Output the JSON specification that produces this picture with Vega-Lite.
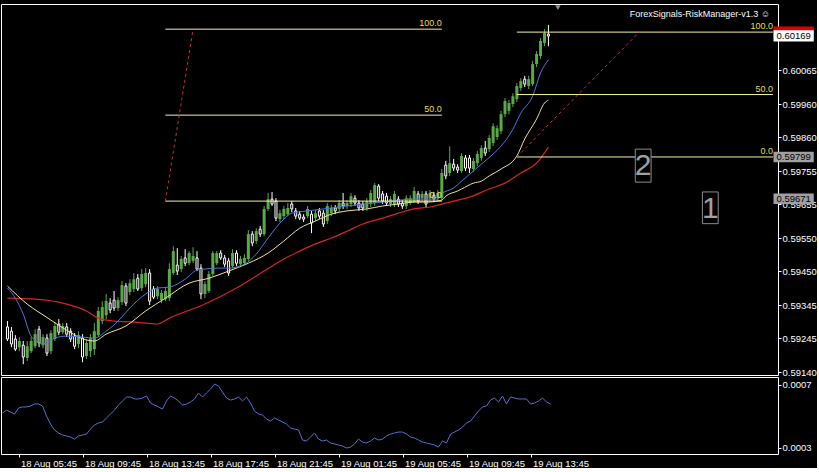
{
"$schema": "https://vega.github.io/schema/vega-lite/v6.json",
"background": "#000000",
"padding": {"left": 0, "top": 3, "right": 0, "bottom": 0},
"bounds": "flush",
"spacing": 2,
"config": {
  "view": {"stroke": "#ffffff", "fill": "#000000"},
  "axis": {"labelColor": "#ffffff", "labelFont": "Liberation Sans", "labelFontSize": 9.5, "tickColor": "#ffffff", "tickSize": 3, "domain": false, "grid": false, "labelPadding": 1},
  "text": {"font": "Liberation Sans"}
},
"datasets": {
"bars": [
{"t":"2016-08-18T04:45","o":0.59279,"h":0.59297,"l":0.59236,"c":0.59242,"a":0.000521,"f":0.59398,"m":0.59404,"s":0.59367},
{"t":"2016-08-18T05:00","o":0.59266,"h":0.59279,"l":0.59217,"c":0.59227,"a":0.00054},
{"t":"2016-08-18T05:15","o":0.59242,"h":0.59254,"l":0.59205,"c":0.59211,"a":0.000528,"f":0.59367},
{"t":"2016-08-18T05:30","o":0.59217,"h":0.59248,"l":0.59205,"c":0.59236,"a":0.000515},
{"t":"2016-08-18T05:45","o":0.59223,"h":0.59236,"l":0.59165,"c":0.59187,"a":0.000553,"f":0.59318},
{"t":"2016-08-18T06:00","o":0.59184,"h":0.59236,"l":0.59175,"c":0.5922,"a":0.00056,"m":0.59349},
{"t":"2016-08-18T06:15","o":0.59205,"h":0.59248,"l":0.59199,"c":0.59236,"a":0.00056,"f":0.59251},
{"t":"2016-08-18T06:30","o":0.5922,"h":0.59272,"l":0.59214,"c":0.59257,"a":0.000566,"s":0.59364},
{"t":"2016-08-18T06:45","o":0.59272,"h":0.59282,"l":0.59217,"c":0.5923,"a":0.000579},
{"t":"2016-08-18T07:00","o":0.59223,"h":0.59257,"l":0.59214,"c":0.59248,"a":0.000579,"f":0.59227},
{"t":"2016-08-18T07:15","o":0.59245,"h":0.59257,"l":0.5919,"c":0.59199,"a":0.000566,"m":0.59308},
{"t":"2016-08-18T07:30","o":0.59205,"h":0.59269,"l":0.59196,"c":0.5926,"a":0.000502},
{"t":"2016-08-18T07:45","o":0.59242,"h":0.59294,"l":0.59236,"c":0.59282,"a":0.000451,"f":0.59245},
{"t":"2016-08-18T08:00","o":0.59288,"h":0.59303,"l":0.59254,"c":0.59263,"a":0.000413},
{"t":"2016-08-18T08:15","o":0.59263,"h":0.59291,"l":0.59257,"c":0.59282,"a":0.000394},
{"t":"2016-08-18T08:30","o":0.59279,"h":0.59291,"l":0.59248,"c":0.59257,"a":0.000381,"f":0.59251,"m":0.59269,"s":0.59349},
{"t":"2016-08-18T08:45","o":0.59266,"h":0.59275,"l":0.59233,"c":0.59242,"a":0.000375},
{"t":"2016-08-18T09:00","o":0.59251,"h":0.5926,"l":0.59211,"c":0.5922,"a":0.000368},
{"t":"2016-08-18T09:15","o":0.59227,"h":0.59266,"l":0.59214,"c":0.59254,"a":0.000355},
{"t":"2016-08-18T09:30","o":0.59245,"h":0.59257,"l":0.59171,"c":0.59187,"a":0.000375,"f":0.59248},
{"t":"2016-08-18T09:45","o":0.5919,"h":0.59242,"l":0.59181,"c":0.5923,"a":0.000381,"m":0.59239,"s":0.59328},
{"t":"2016-08-18T10:00","o":0.59205,"h":0.59257,"l":0.59187,"c":0.59245,"a":0.000387},
{"t":"2016-08-18T10:15","o":0.59211,"h":0.59291,"l":0.59193,"c":0.59266,"a":0.000419,"f":0.59245,"m":0.59236},
{"t":"2016-08-18T10:30","o":0.59254,"h":0.5934,"l":0.59248,"c":0.59328,"a":0.000445,"s":0.59306},
{"t":"2016-08-18T10:45","o":0.59297,"h":0.59358,"l":0.59288,"c":0.5934,"a":0.000458},
{"t":"2016-08-18T11:00","o":0.59315,"h":0.5938,"l":0.59303,"c":0.59358,"a":0.000464,"f":0.59266,"m":0.59257},
{"t":"2016-08-18T11:15","o":0.59352,"h":0.59367,"l":0.59321,"c":0.59331,"a":0.00049},
{"t":"2016-08-18T11:30","o":0.59361,"h":0.59389,"l":0.59328,"c":0.59337,"a":0.000515,"s":0.59297},
{"t":"2016-08-18T11:45","o":0.59337,"h":0.5937,"l":0.59328,"c":0.59361,"a":0.00054,"f":0.59297},
{"t":"2016-08-18T12:00","o":0.59355,"h":0.59419,"l":0.59346,"c":0.59407,"a":0.000572},
{"t":"2016-08-18T12:15","o":0.59404,"h":0.59413,"l":0.59343,"c":0.59352,"a":0.000598,"m":0.59282},
{"t":"2016-08-18T12:30","o":0.59386,"h":0.59425,"l":0.59376,"c":0.59413,"a":0.000623,"f":0.59337},
{"t":"2016-08-18T12:45","o":0.59395,"h":0.59444,"l":0.59386,"c":0.59425,"a":0.000623,"s":0.59294},
{"t":"2016-08-18T13:00","o":0.59428,"h":0.59441,"l":0.59389,"c":0.59395,"a":0.000611},
{"t":"2016-08-18T13:15","o":0.59398,"h":0.59456,"l":0.59389,"c":0.59441,"a":0.000611},
{"t":"2016-08-18T13:30","o":0.5941,"h":0.59459,"l":0.59401,"c":0.59444,"a":0.000617,"f":0.5938,"m":0.59328},
{"t":"2016-08-18T13:45","o":0.59444,"h":0.59456,"l":0.59346,"c":0.59358,"a":0.00063},
{"t":"2016-08-18T14:00","o":0.59395,"h":0.59404,"l":0.59364,"c":0.5937,"a":0.000585},
{"t":"2016-08-18T14:15","o":0.59373,"h":0.59404,"l":0.59364,"c":0.59395,"a":0.000572,"f":0.59398,"s":0.59288},
{"t":"2016-08-18T14:30","o":0.59361,"h":0.59392,"l":0.59352,"c":0.59383,"a":0.00056},
{"t":"2016-08-18T14:45","o":0.59364,"h":0.59401,"l":0.59358,"c":0.59389,"a":0.000547,"m":0.59367},
{"t":"2016-08-18T15:00","o":0.59367,"h":0.59474,"l":0.59358,"c":0.59456,"a":0.000598,"f":0.59401,"s":0.59306},
{"t":"2016-08-18T15:15","o":0.59444,"h":0.59526,"l":0.59438,"c":0.59511,"a":0.00063},
{"t":"2016-08-18T15:30","o":0.59468,"h":0.5952,"l":0.59438,"c":0.5945,"a":0.000617},
{"t":"2016-08-18T15:45","o":0.59456,"h":0.59496,"l":0.59447,"c":0.59487,"a":0.000598},
{"t":"2016-08-18T16:00","o":0.5949,"h":0.59517,"l":0.59465,"c":0.59474,"a":0.000572,"f":0.59425},
{"t":"2016-08-18T16:15","o":0.59474,"h":0.59511,"l":0.59468,"c":0.59505,"a":0.000579,"m":0.59413},
{"t":"2016-08-18T16:30","o":0.59481,"h":0.59523,"l":0.59474,"c":0.59496,"a":0.000592},
{"t":"2016-08-18T16:45","o":0.5949,"h":0.59511,"l":0.5945,"c":0.59456,"a":0.000611,"f":0.59453},
{"t":"2016-08-18T17:00","o":0.59459,"h":0.59471,"l":0.59364,"c":0.5938,"a":0.000649},
{"t":"2016-08-18T17:15","o":0.5938,"h":0.59419,"l":0.59367,"c":0.5941,"a":0.000623,"f":0.59456,"s":0.59349},
{"t":"2016-08-18T17:30","o":0.59389,"h":0.5945,"l":0.59383,"c":0.59441,"a":0.000649,"m":0.59428},
{"t":"2016-08-18T17:45","o":0.59441,"h":0.59511,"l":0.59435,"c":0.59505,"a":0.000674},
{"t":"2016-08-18T18:00","o":0.59474,"h":0.59511,"l":0.59468,"c":0.59505,"a":0.000706,"f":0.59459},
{"t":"2016-08-18T18:15","o":0.59505,"h":0.59514,"l":0.59484,"c":0.5949,"a":0.000694},
{"t":"2016-08-18T18:30","o":0.5949,"h":0.59499,"l":0.59462,"c":0.59471,"a":0.000655},
{"t":"2016-08-18T18:45","o":0.59481,"h":0.5949,"l":0.59435,"c":0.59444,"a":0.000617,"f":0.59459,"m":0.5945},
{"t":"2016-08-18T19:00","o":0.59465,"h":0.59517,"l":0.59459,"c":0.59505,"a":0.000604},
{"t":"2016-08-18T19:15","o":0.59505,"h":0.59514,"l":0.59465,"c":0.59474,"a":0.000611,"s":0.59398},
{"t":"2016-08-18T19:30","o":0.59471,"h":0.59496,"l":0.59462,"c":0.59487,"a":0.000623},
{"t":"2016-08-18T19:45","o":0.59474,"h":0.59502,"l":0.59468,"c":0.5949,"a":0.000598,"f":0.59471},
{"t":"2016-08-18T20:00","o":0.59487,"h":0.59575,"l":0.59481,"c":0.59563,"a":0.000623,"m":0.59474},
{"t":"2016-08-18T20:15","o":0.59563,"h":0.59572,"l":0.59526,"c":0.59536,"a":0.000585},
{"t":"2016-08-18T20:30","o":0.59542,"h":0.59581,"l":0.59533,"c":0.59572,"a":0.000534,"f":0.59502},
{"t":"2016-08-18T20:45","o":0.59578,"h":0.59588,"l":0.59554,"c":0.59563,"a":0.000515},
{"t":"2016-08-18T21:00","o":0.59563,"h":0.59649,"l":0.59557,"c":0.5964,"a":0.000509,"s":0.5945},
{"t":"2016-08-18T21:15","o":0.5964,"h":0.59689,"l":0.59634,"c":0.5967,"a":0.000483,"f":0.59551,"m":0.59505},
{"t":"2016-08-18T21:30","o":0.5967,"h":0.59692,"l":0.59649,"c":0.59655,"a":0.00047},
{"t":"2016-08-18T21:45","o":0.59664,"h":0.59673,"l":0.59603,"c":0.59612,"a":0.00049},
{"t":"2016-08-18T22:00","o":0.59609,"h":0.59637,"l":0.596,"c":0.59627,"a":0.000477},
{"t":"2016-08-18T22:15","o":0.59618,"h":0.59649,"l":0.59609,"c":0.5964,"a":0.000464,"f":0.59609,"m":0.59542,"s":0.59487},
{"t":"2016-08-18T22:30","o":0.59624,"h":0.59658,"l":0.59618,"c":0.59643,"a":0.000451},
{"t":"2016-08-18T22:45","o":0.59655,"h":0.59664,"l":0.5963,"c":0.5964,"a":0.000426,"f":0.59627},
{"t":"2016-08-18T23:00","o":0.59634,"h":0.59643,"l":0.59609,"c":0.59618,"a":0.000419},
{"t":"2016-08-18T23:15","o":0.59624,"h":0.59634,"l":0.59606,"c":0.59612,"a":0.000413,"m":0.59581,"s":0.59511},
{"t":"2016-08-18T23:30","o":0.59615,"h":0.59624,"l":0.596,"c":0.59609,"a":0.000349},
{"t":"2016-08-18T23:45","o":0.59618,"h":0.59649,"l":0.59612,"c":0.5964,"a":0.000343,"f":0.59634},
{"t":"2016-08-19T00:00","o":0.59624,"h":0.59634,"l":0.59566,"c":0.59597,"a":0.000368},
{"t":"2016-08-19T00:15","o":0.59612,"h":0.59637,"l":0.59603,"c":0.59627,"a":0.000394,"m":0.59603,"s":0.59533},
{"t":"2016-08-19T00:30","o":0.59634,"h":0.59643,"l":0.59609,"c":0.59618,"a":0.000355},
{"t":"2016-08-19T00:45","o":0.59627,"h":0.59637,"l":0.59585,"c":0.59594,"a":0.000343,"f":0.5964},
{"t":"2016-08-19T01:00","o":0.59603,"h":0.59658,"l":0.59594,"c":0.59649,"a":0.000349},
{"t":"2016-08-19T01:15","o":0.59627,"h":0.59652,"l":0.59618,"c":0.59643,"a":0.00033,"m":0.59624,"s":0.59551},
{"t":"2016-08-19T01:30","o":0.59643,"h":0.59652,"l":0.59624,"c":0.59634,"a":0.000324},
{"t":"2016-08-19T01:45","o":0.5964,"h":0.59667,"l":0.5963,"c":0.59658,"a":0.000317},
{"t":"2016-08-19T02:00","o":0.59658,"h":0.59689,"l":0.5964,"c":0.59649,"a":0.000311},
{"t":"2016-08-19T02:15","o":0.59649,"h":0.59667,"l":0.5964,"c":0.59658,"a":0.000298,"f":0.59649,"m":0.59634,"s":0.59572},
{"t":"2016-08-19T02:30","o":0.59655,"h":0.59689,"l":0.59646,"c":0.59679,"a":0.000304},
{"t":"2016-08-19T02:45","o":0.59673,"h":0.59682,"l":0.59649,"c":0.59658,"a":0.000324},
{"t":"2016-08-19T03:00","o":0.59658,"h":0.59667,"l":0.59634,"c":0.59643,"a":0.000355},
{"t":"2016-08-19T03:15","o":0.59655,"h":0.59664,"l":0.59634,"c":0.59643,"a":0.000336,"f":0.59655,"s":0.59594},
{"t":"2016-08-19T03:30","o":0.59643,"h":0.59673,"l":0.59634,"c":0.59664,"a":0.00033,"m":0.5964},
{"t":"2016-08-19T03:45","o":0.59655,"h":0.59698,"l":0.59646,"c":0.59689,"a":0.000343},
{"t":"2016-08-19T04:00","o":0.59658,"h":0.59719,"l":0.59649,"c":0.59713,"a":0.000362},
{"t":"2016-08-19T04:15","o":0.5971,"h":0.59716,"l":0.59664,"c":0.59673,"a":0.000349},
{"t":"2016-08-19T04:30","o":0.59686,"h":0.59695,"l":0.59655,"c":0.59664,"a":0.000355,"f":0.59661,"m":0.59649,"s":0.59612},
{"t":"2016-08-19T04:45","o":0.59679,"h":0.59689,"l":0.59649,"c":0.59658,"a":0.000375},
{"t":"2016-08-19T05:00","o":0.59655,"h":0.59679,"l":0.59646,"c":0.5967,"a":0.000387},
{"t":"2016-08-19T05:15","o":0.59655,"h":0.59695,"l":0.59646,"c":0.59686,"a":0.000394},
{"t":"2016-08-19T05:30","o":0.5967,"h":0.59679,"l":0.59646,"c":0.59655,"a":0.0004,"m":0.59655,"s":0.59627},
{"t":"2016-08-19T05:45","o":0.59658,"h":0.59667,"l":0.5964,"c":0.59649,"a":0.0004},
{"t":"2016-08-19T06:00","o":0.59649,"h":0.59682,"l":0.5964,"c":0.59673,"a":0.000387},
{"t":"2016-08-19T06:15","o":0.59658,"h":0.59682,"l":0.59652,"c":0.59673,"a":0.000368},
{"t":"2016-08-19T06:30","o":0.59664,"h":0.59707,"l":0.59658,"c":0.59695,"a":0.000362,"f":0.5967,"m":0.59661,"s":0.5964},
{"t":"2016-08-19T06:45","o":0.59686,"h":0.59695,"l":0.59655,"c":0.59664,"a":0.000349},
{"t":"2016-08-19T07:00","o":0.59673,"h":0.59695,"l":0.59664,"c":0.59686,"a":0.000336},
{"t":"2016-08-19T07:15","o":0.59686,"h":0.59695,"l":0.59643,"c":0.59655,"a":0.00033,"m":0.59661},
{"t":"2016-08-19T07:30","o":0.59673,"h":0.59698,"l":0.59664,"c":0.59689,"a":0.000324,"s":0.59646},
{"t":"2016-08-19T07:45","o":0.59682,"h":0.59692,"l":0.59661,"c":0.5967,"a":0.000317},
{"t":"2016-08-19T08:00","o":0.59673,"h":0.59698,"l":0.59664,"c":0.59689,"a":0.000304,"f":0.5967},
{"t":"2016-08-19T08:15","o":0.59673,"h":0.59762,"l":0.59667,"c":0.5975,"a":0.000343,"f":0.59686,"m":0.59667,"s":0.59655},
{"t":"2016-08-19T08:30","o":0.59774,"h":0.59787,"l":0.59731,"c":0.59741,"a":0.00033,"m":0.59679},
{"t":"2016-08-19T08:45","o":0.5975,"h":0.59832,"l":0.59741,"c":0.5978,"a":0.000387},
{"t":"2016-08-19T09:00","o":0.59777,"h":0.59793,"l":0.59756,"c":0.59765,"a":0.0004,"f":0.59704,"s":0.59664},
{"t":"2016-08-19T09:15","o":0.59768,"h":0.59777,"l":0.5975,"c":0.59759,"a":0.000413,"m":0.59695},
{"t":"2016-08-19T09:30","o":0.59756,"h":0.59811,"l":0.5975,"c":0.59802,"a":0.000432,"f":0.59725,"m":0.59701},
{"t":"2016-08-19T09:45","o":0.59796,"h":0.59805,"l":0.59756,"c":0.59765,"a":0.000458},
{"t":"2016-08-19T10:00","o":0.59796,"h":0.59805,"l":0.5975,"c":0.59765,"a":0.00047,"s":0.59676},
{"t":"2016-08-19T10:15","o":0.59762,"h":0.59796,"l":0.59753,"c":0.59787,"a":0.000502,"m":0.59719},
{"t":"2016-08-19T10:30","o":0.5978,"h":0.59817,"l":0.59771,"c":0.59808,"a":0.000534},
{"t":"2016-08-19T10:45","o":0.59796,"h":0.59835,"l":0.59787,"c":0.59826,"a":0.00056,"f":0.59777,"m":0.59725},
{"t":"2016-08-19T11:00","o":0.59826,"h":0.59848,"l":0.59802,"c":0.59811,"a":0.000566},
{"t":"2016-08-19T11:15","o":0.59823,"h":0.59866,"l":0.59814,"c":0.59857,"a":0.000604,"m":0.59741,"s":0.59701},
{"t":"2016-08-19T11:30","o":0.59842,"h":0.59902,"l":0.59832,"c":0.59893,"a":0.000617,"f":0.59808},
{"t":"2016-08-19T11:45","o":0.5986,"h":0.59896,"l":0.59851,"c":0.59887,"a":0.000592},
{"t":"2016-08-19T12:00","o":0.59878,"h":0.5994,"l":0.59869,"c":0.5993,"a":0.00063,"f":0.59832,"m":0.59762},
{"t":"2016-08-19T12:15","o":0.5993,"h":0.59979,"l":0.59921,"c":0.5997,"a":0.000579,"s":0.59719},
{"t":"2016-08-19T12:30","o":0.5994,"h":0.59973,"l":0.5993,"c":0.59964,"a":0.000623},
{"t":"2016-08-19T12:45","o":0.59961,"h":0.59994,"l":0.59952,"c":0.59985,"a":0.000617,"f":0.59884},
{"t":"2016-08-19T13:00","o":0.59976,"h":0.60025,"l":0.59967,"c":0.60016,"a":0.000611,"m":0.59802},
{"t":"2016-08-19T13:15","o":0.6001,"h":0.6004,"l":0.60001,"c":0.60031,"a":0.000611,"f":0.59933,"s":0.5975},
{"t":"2016-08-19T13:30","o":0.60037,"h":0.60047,"l":0.60013,"c":0.60022,"a":0.000611,"m":0.59854},
{"t":"2016-08-19T13:45","o":0.60016,"h":0.60047,"l":0.60007,"c":0.60037,"a":0.000579},
{"t":"2016-08-19T14:00","o":0.60022,"h":0.60093,"l":0.60016,"c":0.60083,"a":0.000585,"f":0.59985},
{"t":"2016-08-19T14:15","o":0.60083,"h":0.60123,"l":0.60074,"c":0.60114,"a":0.000598,"m":0.59915,"s":0.5978},
{"t":"2016-08-19T14:30","o":0.60108,"h":0.60163,"l":0.60099,"c":0.60154,"a":0.000617,"f":0.60056},
{"t":"2016-08-19T14:45","o":0.60148,"h":0.6019,"l":0.60138,"c":0.60178,"a":0.000592,"m":0.59964},
{"t":"2016-08-19T15:00","o":0.60175,"h":0.60203,"l":0.60138,"c":0.60169,"a":0.000579,"f":0.60096,"m":0.59973,"s":0.59829}
],
"fibs": [
{"t":"2016-08-18T14:45","t2":"2016-08-19T08:15","p":0.6019,"s":"100.0"},
{"t":"2016-08-18T14:45","t2":"2016-08-19T08:15","p":0.59927,"s":"50.0"},
{"t":"2016-08-18T14:45","t2":"2016-08-19T08:15","p":0.59664,"s":"0.0"},
{"t":"2016-08-19T13:00","t2":"2016-08-20T05:13","p":0.60181,"s":"100.0"},
{"t":"2016-08-19T13:00","t2":"2016-08-20T05:13","p":0.5999,"s":"50.0"},
{"t":"2016-08-19T13:00","t2":"2016-08-20T05:13","p":0.59799,"s":"0.0"}
],
"diag": [
{"g":"a","t":"2016-08-18T14:45","p":0.59664},
{"g":"a","t":"2016-08-18T16:30","p":0.6019},
{"g":"b","t":"2016-08-19T13:00","p":0.59799},
{"g":"b","t":"2016-08-19T20:45","p":0.60181}
],
"boxes": [
{"t":"2016-08-19T20:30","t2":"2016-08-19T21:30","lo":0.59722,"hi":0.59823,"tc":"2016-08-19T21:00","pc":0.59774,"s":"2"},
{"t":"2016-08-20T00:45","t2":"2016-08-20T01:45","lo":0.59595,"hi":0.59692,"tc":"2016-08-20T01:15","pc":0.59643,"s":"1"}
],
"tags": [
{"t":"2016-08-20T05:15","t2":"2016-08-20T07:48","lo":0.60164,"hi":0.60198,"p":0.60181,"s":"","k":"tp"},
{"t":"2016-08-20T05:15","t2":"2016-08-20T07:48","lo":0.60152,"hi":0.60187,"p":0.60169,"s":"0.60169","k":"bid"},
{"t":"2016-08-20T05:15","t2":"2016-08-20T07:48","lo":0.59783,"hi":0.59815,"p":0.59799,"s":"0.59799","k":"lvl"},
{"t":"2016-08-20T05:15","t2":"2016-08-20T07:48","lo":0.59655,"hi":0.59687,"p":0.59671,"s":"0.59671","k":"lvl"}
],
"notes": [
{"t":"2016-08-20T05:13","p":0.60236,"s":"ForexSignals-RiskManager-v1.3 ☺"}
],
"marker": [
{"t":"2016-08-19T15:36","p":0.60256}
]
},
"vconcat": [
{
"width": 777, "height": 371,
"layer": [
{"data": {"name": "bars"}, "transform": [{"filter": "datum.c >= datum.o"}],
 "mark": {"type": "rule", "color": "#5aa84a", "strokeWidth": 1},
 "encoding": {
  "x": {"field": "t", "type": "temporal", "axis": null, "scale": {"domain": [{"year":2016,"month":8,"date":18,"hours":4,"minutes":39,"seconds":22,"milliseconds":500},{"year":2016,"month":8,"date":20,"hours":5,"minutes":13,"seconds":7,"milliseconds":500}], "nice": false}},
  "y": {"field": "l", "type": "quantitative", "scale": {"domain": [0.59132, 0.60267], "zero": false, "nice": false},
        "axis": {"orient": "right", "title": null, "values": [0.5914,0.59245,0.59345,0.5945,0.5955,0.59655,0.59755,0.5986,0.5996,0.60065], "format": ".5f", "labelOverlap": false, "labelFlush": false}},
  "y2": {"field": "h"}}},
{"data": {"name": "bars"}, "transform": [{"filter": "datum.c < datum.o"}],
 "mark": {"type": "rule", "color": "#ffffff", "strokeWidth": 1},
 "encoding": {
  "x": {"field": "t", "type": "temporal", "axis": null, "scale": {"domain": [{"year":2016,"month":8,"date":18,"hours":4,"minutes":39,"seconds":22,"milliseconds":500},{"year":2016,"month":8,"date":20,"hours":5,"minutes":13,"seconds":7,"milliseconds":500}], "nice": false}},
  "y": {"field": "l", "type": "quantitative", "title": null, "scale": {"domain": [0.59132, 0.60267], "zero": false, "nice": false}},
  "y2": {"field": "h"}}},
{"data": {"name": "bars"}, "transform": [{"filter": "datum.c >= datum.o"}],
 "mark": {"type": "bar", "width": 3, "color": "#5aa84a"},
 "encoding": {
  "x": {"field": "t", "type": "temporal", "axis": null, "scale": {"domain": [{"year":2016,"month":8,"date":18,"hours":4,"minutes":39,"seconds":22,"milliseconds":500},{"year":2016,"month":8,"date":20,"hours":5,"minutes":13,"seconds":7,"milliseconds":500}], "nice": false}},
  "y": {"field": "o", "type": "quantitative", "title": null, "scale": {"domain": [0.59132, 0.60267], "zero": false, "nice": false}},
  "y2": {"field": "c"}}},
{"data": {"name": "bars"}, "transform": [{"filter": "datum.c < datum.o"}],
 "mark": {"type": "bar", "width": 2, "fill": "#000000", "stroke": "#ffffff", "strokeWidth": 1},
 "encoding": {
  "x": {"field": "t", "type": "temporal", "axis": null, "scale": {"domain": [{"year":2016,"month":8,"date":18,"hours":4,"minutes":39,"seconds":22,"milliseconds":500},{"year":2016,"month":8,"date":20,"hours":5,"minutes":13,"seconds":7,"milliseconds":500}], "nice": false}},
  "y": {"field": "o", "type": "quantitative", "title": null, "scale": {"domain": [0.59132, 0.60267], "zero": false, "nice": false}},
  "y2": {"field": "c"}}},
{"data": {"name": "bars"}, "transform": [{"filter": "isValid(datum.s)"}],
 "mark": {"type": "line", "color": "#d42424", "strokeWidth": 1.2, "interpolate": "monotone"},
 "encoding": {
  "x": {"field": "t", "type": "temporal", "axis": null, "scale": {"domain": [{"year":2016,"month":8,"date":18,"hours":4,"minutes":39,"seconds":22,"milliseconds":500},{"year":2016,"month":8,"date":20,"hours":5,"minutes":13,"seconds":7,"milliseconds":500}], "nice": false}},
  "y": {"field": "s", "type": "quantitative", "title": null, "scale": {"domain": [0.59132, 0.60267], "zero": false, "nice": false}}}},
{"data": {"name": "bars"}, "transform": [{"filter": "isValid(datum.m)"}],
 "mark": {"type": "line", "color": "#f2e49a", "strokeWidth": 1, "interpolate": "monotone"},
 "encoding": {
  "x": {"field": "t", "type": "temporal", "axis": null, "scale": {"domain": [{"year":2016,"month":8,"date":18,"hours":4,"minutes":39,"seconds":22,"milliseconds":500},{"year":2016,"month":8,"date":20,"hours":5,"minutes":13,"seconds":7,"milliseconds":500}], "nice": false}},
  "y": {"field": "m", "type": "quantitative", "title": null, "scale": {"domain": [0.59132, 0.60267], "zero": false, "nice": false}}}},
{"data": {"name": "bars"}, "transform": [{"filter": "isValid(datum.f)"}],
 "mark": {"type": "line", "color": "#4a78e0", "strokeWidth": 1, "interpolate": "monotone"},
 "encoding": {
  "x": {"field": "t", "type": "temporal", "axis": null, "scale": {"domain": [{"year":2016,"month":8,"date":18,"hours":4,"minutes":39,"seconds":22,"milliseconds":500},{"year":2016,"month":8,"date":20,"hours":5,"minutes":13,"seconds":7,"milliseconds":500}], "nice": false}},
  "y": {"field": "f", "type": "quantitative", "title": null, "scale": {"domain": [0.59132, 0.60267], "zero": false, "nice": false}}}},
{"mark": {"type": "rule", "color": "#d01818", "strokeWidth": 1},
 "encoding": {"y": {"datum": 0.60181, "type": "quantitative", "title": null, "scale": {"domain": [0.59132, 0.60267], "zero": false, "nice": false}}}},
{"mark": {"type": "rule", "color": "#b8b8b8", "strokeWidth": 1},
 "encoding": {"y": {"datum": 0.60169, "type": "quantitative", "title": null, "scale": {"domain": [0.59132, 0.60267], "zero": false, "nice": false}}}},
{"mark": {"type": "rule", "color": "#c0c0c0", "strokeWidth": 1, "strokeDash": [3, 3]},
 "encoding": {"y": {"datum": 0.59799, "type": "quantitative", "title": null, "scale": {"domain": [0.59132, 0.60267], "zero": false, "nice": false}}}},
{"mark": {"type": "rule", "color": "#c0c0c0", "strokeWidth": 1, "strokeDash": [3, 3]},
 "encoding": {"y": {"datum": 0.59671, "type": "quantitative", "title": null, "scale": {"domain": [0.59132, 0.60267], "zero": false, "nice": false}}}},
{"data": {"name": "fibs"},
 "mark": {"type": "rule", "color": "#f8f39a", "strokeWidth": 1},
 "encoding": {
  "x": {"field": "t", "type": "temporal", "axis": null, "scale": {"domain": [{"year":2016,"month":8,"date":18,"hours":4,"minutes":39,"seconds":22,"milliseconds":500},{"year":2016,"month":8,"date":20,"hours":5,"minutes":13,"seconds":7,"milliseconds":500}], "nice": false}},
  "x2": {"field": "t2"},
  "y": {"field": "p", "type": "quantitative", "title": null, "scale": {"domain": [0.59132, 0.60267], "zero": false, "nice": false}}}},
{"data": {"name": "fibs"},
 "mark": {"type": "text", "color": "#e6df5e", "fontSize": 9, "align": "right", "baseline": "bottom", "dy": -1},
 "encoding": {
  "x": {"field": "t2", "type": "temporal", "axis": null, "scale": {"domain": [{"year":2016,"month":8,"date":18,"hours":4,"minutes":39,"seconds":22,"milliseconds":500},{"year":2016,"month":8,"date":20,"hours":5,"minutes":13,"seconds":7,"milliseconds":500}], "nice": false}},
  "y": {"field": "p", "type": "quantitative", "title": null, "scale": {"domain": [0.59132, 0.60267], "zero": false, "nice": false}},
  "text": {"field": "s"}}},
{"data": {"name": "diag"},
 "mark": {"type": "line", "color": "#c83232", "strokeWidth": 1, "strokeDash": [3, 3]},
 "encoding": {
  "x": {"field": "t", "type": "temporal", "axis": null, "scale": {"domain": [{"year":2016,"month":8,"date":18,"hours":4,"minutes":39,"seconds":22,"milliseconds":500},{"year":2016,"month":8,"date":20,"hours":5,"minutes":13,"seconds":7,"milliseconds":500}], "nice": false}},
  "y": {"field": "p", "type": "quantitative", "title": null, "scale": {"domain": [0.59132, 0.60267], "zero": false, "nice": false}},
  "detail": {"field": "g"}}},
{"data": {"name": "boxes"},
 "mark": {"type": "rect", "fill": "#000000", "stroke": "#8c8c8c", "strokeWidth": 1},
 "encoding": {
  "x": {"field": "t", "type": "temporal", "axis": null, "scale": {"domain": [{"year":2016,"month":8,"date":18,"hours":4,"minutes":39,"seconds":22,"milliseconds":500},{"year":2016,"month":8,"date":20,"hours":5,"minutes":13,"seconds":7,"milliseconds":500}], "nice": false}},
  "x2": {"field": "t2"},
  "y": {"field": "lo", "type": "quantitative", "title": null, "scale": {"domain": [0.59132, 0.60267], "zero": false, "nice": false}},
  "y2": {"field": "hi"}}},
{"data": {"name": "boxes"},
 "mark": {"type": "text", "color": "#a0a0a0", "fontSize": 30, "align": "center", "baseline": "middle", "dy": 1},
 "encoding": {
  "x": {"field": "tc", "type": "temporal", "axis": null, "scale": {"domain": [{"year":2016,"month":8,"date":18,"hours":4,"minutes":39,"seconds":22,"milliseconds":500},{"year":2016,"month":8,"date":20,"hours":5,"minutes":13,"seconds":7,"milliseconds":500}], "nice": false}},
  "y": {"field": "pc", "type": "quantitative", "title": null, "scale": {"domain": [0.59132, 0.60267], "zero": false, "nice": false}},
  "text": {"field": "s"}}},
{"data": {"name": "tags"},
 "mark": {"type": "rect"},
 "encoding": {
  "x": {"field": "t", "type": "temporal", "axis": null, "scale": {"domain": [{"year":2016,"month":8,"date":18,"hours":4,"minutes":39,"seconds":22,"milliseconds":500},{"year":2016,"month":8,"date":20,"hours":5,"minutes":13,"seconds":7,"milliseconds":500}], "nice": false}},
  "x2": {"field": "t2"},
  "y": {"field": "lo", "type": "quantitative", "title": null, "scale": {"domain": [0.59132, 0.60267], "zero": false, "nice": false}},
  "y2": {"field": "hi"},
  "fill": {"field": "k", "type": "nominal", "legend": null, "scale": {"domain": ["tp", "bid", "lvl"], "range": ["#e00000", "#ffffff", "#a0a0a0"]}}}},
{"data": {"name": "tags"},
 "mark": {"type": "text", "color": "#000000", "fontSize": 9.5, "align": "left", "baseline": "middle", "dx": 3},
 "encoding": {
  "x": {"field": "t", "type": "temporal", "axis": null, "scale": {"domain": [{"year":2016,"month":8,"date":18,"hours":4,"minutes":39,"seconds":22,"milliseconds":500},{"year":2016,"month":8,"date":20,"hours":5,"minutes":13,"seconds":7,"milliseconds":500}], "nice": false}},
  "y": {"field": "p", "type": "quantitative", "title": null, "scale": {"domain": [0.59132, 0.60267], "zero": false, "nice": false}},
  "text": {"field": "s"}}},
{"data": {"name": "notes"},
 "mark": {"type": "text", "color": "#ffffff", "fontSize": 9, "align": "right", "baseline": "middle", "dx": -3},
 "encoding": {
  "x": {"field": "t", "type": "temporal", "axis": null, "scale": {"domain": [{"year":2016,"month":8,"date":18,"hours":4,"minutes":39,"seconds":22,"milliseconds":500},{"year":2016,"month":8,"date":20,"hours":5,"minutes":13,"seconds":7,"milliseconds":500}], "nice": false}},
  "y": {"field": "p", "type": "quantitative", "title": null, "scale": {"domain": [0.59132, 0.60267], "zero": false, "nice": false}},
  "text": {"field": "s"}}},
{"data": {"name": "marker"},
 "mark": {"type": "point", "shape": "triangle-down", "size": 30, "filled": true, "color": "#909090", "opacity": 1},
 "encoding": {
  "x": {"field": "t", "type": "temporal", "axis": null, "scale": {"domain": [{"year":2016,"month":8,"date":18,"hours":4,"minutes":39,"seconds":22,"milliseconds":500},{"year":2016,"month":8,"date":20,"hours":5,"minutes":13,"seconds":7,"milliseconds":500}], "nice": false}},
  "y": {"field": "p", "type": "quantitative", "title": null, "scale": {"domain": [0.59132, 0.60267], "zero": false, "nice": false}}}}
]
},
{
"width": 777, "height": 77,
"data": {"name": "bars"},
"mark": {"type": "line", "color": "#4a72d8", "strokeWidth": 1},
"encoding": {
  "x": {"field": "t", "type": "temporal",
        "scale": {"domain": [{"year":2016,"month":8,"date":18,"hours":4,"minutes":39,"seconds":22,"milliseconds":500},{"year":2016,"month":8,"date":20,"hours":5,"minutes":13,"seconds":7,"milliseconds":500}], "nice": false},
        "axis": {"orient": "bottom", "title": null, "format": "%d %b %H:%M", "labelAlign": "left", "labelOffset": 2, "labelFlush": false, "labelOverlap": false,
                 "values": [{"year":2016,"month":8,"date":18,"hours":5,"minutes":45},{"year":2016,"month":8,"date":18,"hours":9,"minutes":45},{"year":2016,"month":8,"date":18,"hours":13,"minutes":45},{"year":2016,"month":8,"date":18,"hours":17,"minutes":45},{"year":2016,"month":8,"date":18,"hours":21,"minutes":45},{"year":2016,"month":8,"date":19,"hours":1,"minutes":45},{"year":2016,"month":8,"date":19,"hours":5,"minutes":45},{"year":2016,"month":8,"date":19,"hours":9,"minutes":45},{"year":2016,"month":8,"date":19,"hours":13,"minutes":45}]}},
  "y": {"field": "a", "type": "quantitative", "scale": {"domain": [0.00026, 0.000751], "zero": false, "nice": false},
        "axis": {"orient": "right", "title": null, "values": [0.0003, 0.0007], "format": ".4f"}}
}
}
]
}
